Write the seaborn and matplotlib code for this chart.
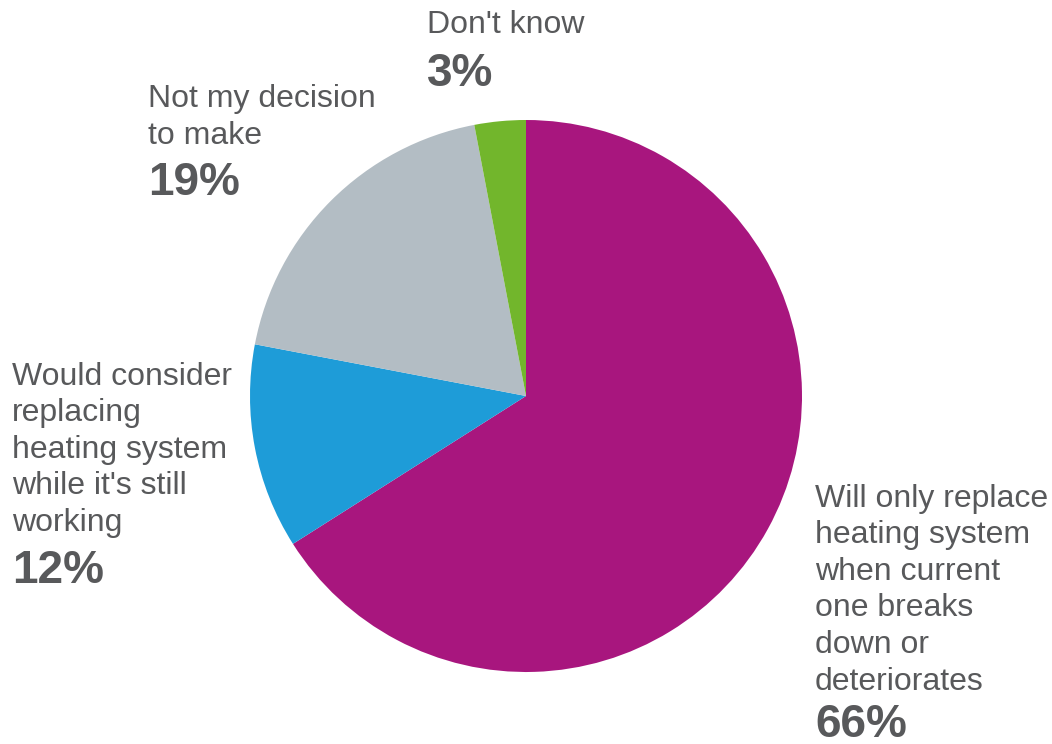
import matplotlib
matplotlib.use("Agg")
import matplotlib.pyplot as plt
import seaborn as sns

# Survey answers, clockwise from 12 o'clock
categories = [
    "Will only replace\nheating system\nwhen current\none breaks\ndown or\ndeteriorates",
    "Would consider\nreplacing\nheating system\nwhile it's still\nworking",
    "Not my decision\nto make",
    "Don't know",
]
shares = [66, 12, 19, 3]
pct_labels = ["66%", "12%", "19%", "3%"]
colors = ["#A8167E", "#1E9CD8", "#B3BDC4", "#72B62C"]

sns.set_theme(style="white")
plt.rcParams["font.family"] = ["Liberation Sans", "DejaVu Sans"]

W, H = 1052, 744
fig = plt.figure(figsize=(W / 100, H / 100), dpi=100)
fig.patch.set_facecolor("white")

cx, cy, r = 526, 396, 276
ax = fig.add_axes([(cx - r) / W, (H - cy - r) / H, 2 * r / W, 2 * r / H])
ax.pie(shares, colors=colors, startangle=90, counterclock=False, radius=1,
       wedgeprops=dict(linewidth=0))
ax.set_xlim(-1, 1)
ax.set_ylim(-1, 1)
ax.set_aspect("equal")
ax.axis("off")

text_color = "#58595B"
line_step = 36.5
# (left x, first-line baseline, percentage baseline) in pixels
label_pos = [
    (815, 507, 737),
    (12, 385, 583),
    (148, 107, 195),
    (427, 33, 86),
]
for cat, pct, (x, yb, yp) in zip(categories, pct_labels, label_pos):
    for i, line in enumerate(cat.split("\n")):
        fig.text(x / W, 1 - (yb + i * line_step) / H, line, ha="left",
                 va="baseline", fontsize=23, color=text_color)
    fig.text(x / W, 1 - yp / H, pct, ha="left", va="baseline",
             fontsize=33, fontweight="bold", color=text_color)

fig.savefig("out.png", dpi=100)
